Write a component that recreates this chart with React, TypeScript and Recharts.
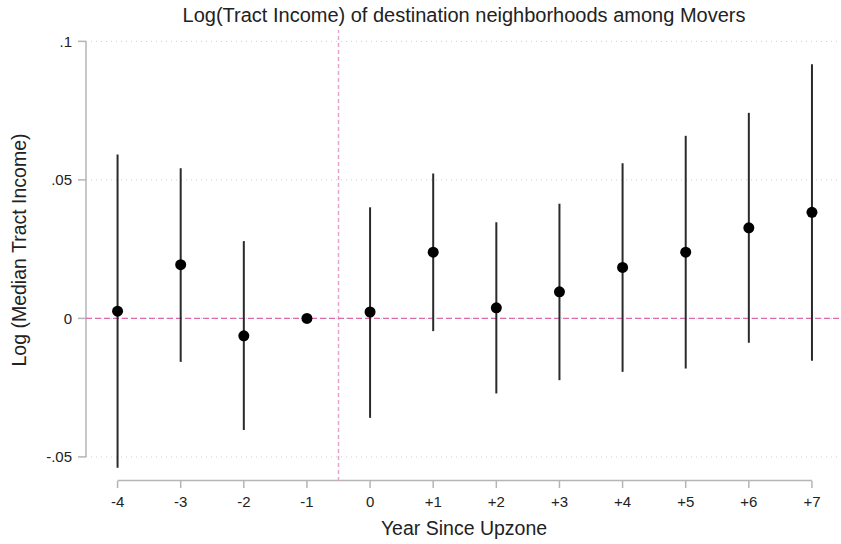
import {
  ComposedChart,
  Scatter,
  ErrorBar,
  XAxis,
  YAxis,
  CartesianGrid,
  ReferenceLine,
} from 'recharts';

// Event-study estimates, by year relative to the upzoning
const years = [-4, -3, -2, -1, 0, 1, 2, 3, 4, 5, 6, 7];
const coef = [0.0026, 0.0194, -0.0063, 0, 0.0023, 0.0239, 0.0038, 0.0096, 0.0184, 0.0239, 0.0327, 0.0383];
const lower = [-0.0539, -0.0157, -0.0403, 0, -0.0359, -0.0046, -0.0271, -0.0223, -0.0193, -0.0181, -0.0088, -0.0153];
const upper = [0.0592, 0.0542, 0.0279, 0, 0.0401, 0.0523, 0.0347, 0.0414, 0.056, 0.0659, 0.0742, 0.0917];

const yTicks = [-0.05, 0, 0.05, 0.1];

const W = 841;
const H = 544;
const FONT = '"Liberation Sans", Arial, Helvetica, sans-serif';
const AXIS_GRAY = '#b5b5b5';
const Y_MIN = -0.0587;
const Y_MAX = 0.1041;

const data = years.map((year, i) => ({
  year,
  coef: coef[i],
  ci: [coef[i] - lower[i], upper[i] - coef[i]],
}));

const fmtX = (v: number) => (v > 0 ? `+${v}` : `${v}`);
const fmtY = (v: number) => (v === 0 ? '0' : String(v).replace('0.', '.'));

const Dot = (props: any) => <circle cx={props.cx} cy={props.cy} r={5.5} fill="#000" />;

export default function App() {
  return (
    <div style={{ position: 'absolute', left: 0, top: 0, width: W, height: H, background: '#fff', fontFamily: FONT }}>
      <ComposedChart width={W} height={H} data={data} margin={{ top: 30, right: 0, bottom: 0, left: 0 }}>
        <CartesianGrid
          vertical={false}
          horizontalValues={yTicks}
          stroke="#cfcfcf"
          strokeDasharray="1 4"
        />
        <XAxis
          type="number"
          dataKey="year"
          domain={[-4.5, 7.46]}
          ticks={years}
          tickFormatter={fmtX}
          allowDataOverflow
          height={63}
          axisLine={false}
          tickLine={{ stroke: AXIS_GRAY, strokeWidth: 1.5 }}
          tickSize={7}
          tickMargin={8}
          tick={{ fill: '#222', fontSize: 15, fontFamily: FONT }}
        />
        <YAxis
          type="number"
          domain={[Y_MIN, Y_MAX]}
          ticks={yTicks}
          tickFormatter={fmtY}
          allowDataOverflow
          width={86}
          axisLine={false}
          tickLine={{ stroke: AXIS_GRAY, strokeWidth: 1.5 }}
          tickSize={8}
          tickMargin={6}
          tick={{ fill: '#222', fontSize: 15, fontFamily: FONT }}
        />
        {/* axis lines only span the tick range */}
        <ReferenceLine
          segment={[{ x: -4, y: Y_MIN + 0.0002 }, { x: 7, y: Y_MIN + 0.0002 }]}
          stroke={AXIS_GRAY}
          strokeWidth={1.5}
          ifOverflow="visible"
        />
        <ReferenceLine
          segment={[{ x: -4.5, y: -0.05 }, { x: -4.5, y: 0.1 }]}
          stroke={AXIS_GRAY}
          strokeWidth={1.5}
          ifOverflow="visible"
        />
        <ReferenceLine x={-0.5} stroke="#e8a3cb" strokeWidth={1.5} strokeDasharray="4 3" />
        <ReferenceLine y={0} stroke="#dc6aa8" strokeWidth={1.3} strokeDasharray="6 3" />
        <Scatter dataKey="coef" shape={Dot} isAnimationActive={false}>
          <ErrorBar dataKey="ci" direction="y" width={0} stroke="#2a2a2a" strokeWidth={2} isAnimationActive={false} />
        </Scatter>
      </ComposedChart>
      <svg width={W} height={H} style={{ position: 'absolute', left: 0, top: 0, pointerEvents: 'none' }}>
        <text x={464} y={21.7} textAnchor="middle" fontSize={20} fill="#222" fontFamily={FONT}>
          Log(Tract Income) of destination neighborhoods among Movers
        </text>
        <text x={464} y={535} textAnchor="middle" fontSize={19.5} fill="#222" fontFamily={FONT}>
          Year Since Upzone
        </text>
        <text
          x={0}
          y={0}
          transform="translate(26 250) rotate(-90)"
          textAnchor="middle"
          fontSize={19.5}
          fill="#222"
          fontFamily={FONT}
        >
          Log (Median Tract Income)
        </text>
      </svg>
    </div>
  );
}
